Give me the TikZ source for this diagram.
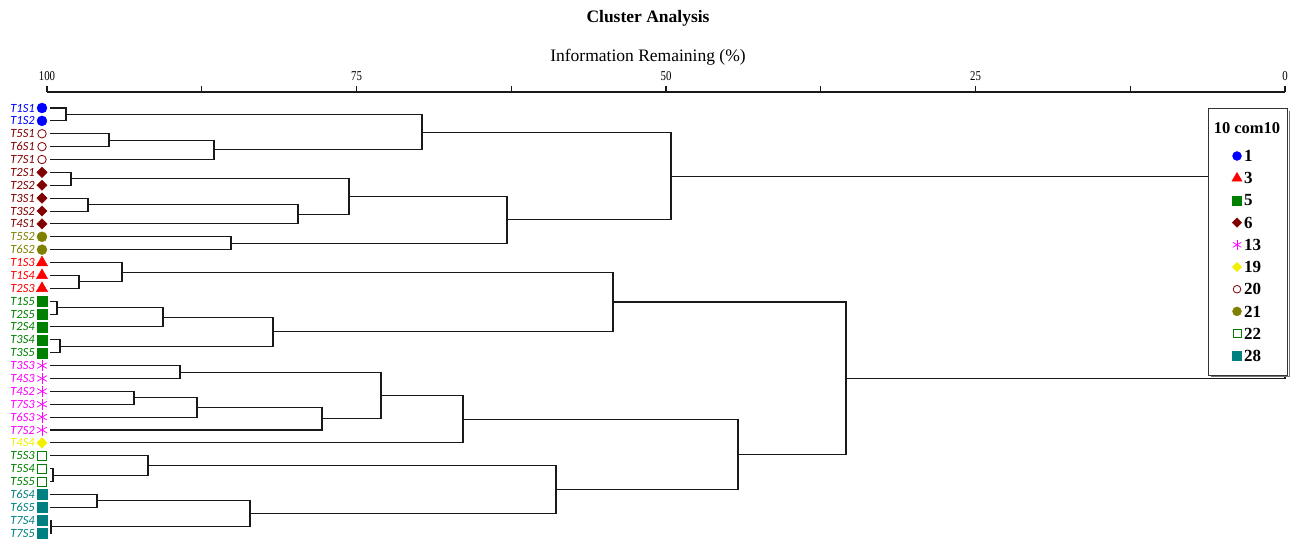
\documentclass[tikz,border=0pt]{standalone}
\usepackage{fontspec}
\setmainfont{Liberation Serif}
\newfontfamily\lblfont{Carlito}
\usetikzlibrary{shapes.geometric}
\definecolor{cblue}{RGB}{0,0,255}
\definecolor{cmaroon}{RGB}{128,0,0}
\definecolor{colive}{RGB}{128,128,0}
\definecolor{cred}{RGB}{255,0,0}
\definecolor{cgreen}{RGB}{0,128,0}
\definecolor{cmag}{RGB}{255,0,255}
\definecolor{cyel}{RGB}{240,240,0}
\definecolor{cteal}{RGB}{0,128,128}
\newcommand\joinpair[3]{\draw[link] (#2) -| (#1) |- (#3);}
\begin{document}
\begin{tikzpicture}[
  x=1pt, y=-1pt,
  every node/.style={inner sep=0pt},
  link/.style={draw=black!90, line width=1.05pt},
  mdot/.style={circle, minimum size=10pt},
  mocirc/.style={circle, minimum size=8.5pt, fill=white, line width=0.8pt},
  mtri/.style={regular polygon, regular polygon sides=3, minimum size=13pt},
  msq/.style={rectangle, minimum size=10pt},
  mosq/.style={rectangle, minimum size=9pt, fill=white, line width=0.8pt},
  mdiam/.style={diamond, minimum size=10.5pt},
  mstar/.style={draw=none, fill=none, rectangle, minimum size=12pt,
    path picture={\foreach \a in {90,30,150}
      \draw[cmag, line width=0.75pt] (path picture bounding box.center) +(\a:5.5pt) -- +(\a+180:5.5pt);}},
  leaflbl/.style={anchor=east, font=\lblfont\itshape\fontsize{12.5}{12.5}\selectfont},
  lgtext/.style={anchor=west, font=\bfseries\fontsize{17}{17}\selectfont}
]
\useasboundingbox (0,0) rectangle (1293,541);

% title and axis
\node[font=\bfseries\fontsize{17.5}{17.5}\selectfont] (title) at (648,18) {Cluster Analysis};
\node[font=\fontsize{17.5}{17.5}\selectfont] (axtitle) at (648,57) {Information Remaining (\%)};
\coordinate (axL) at (47,92);
\coordinate (axR) at (1285,92);
\draw[line width=1.7pt, black!90] (axL) -- (axR);
\foreach \v in {0,12.5,...,100}
  \draw[line width=1.3pt, black!90] (1285-12.38*\v,92) -- ++(0,-6);
\foreach \v in {0,25,50,75,100}
  \node[font=\fontsize{13.5}{13.5}\selectfont, xscale=0.8] (tk\v) at (1285-12.38*\v,76) {\v};

\begin{scope}[y=-12.88pt, yshift=-108pt]
% leaves
\foreach \nm/\col/\mk [count=\i from 0] in {T1S1/cblue/mdot, T1S2/cblue/mdot,
  T5S1/cmaroon/mocirc, T6S1/cmaroon/mocirc, T7S1/cmaroon/mocirc,
  T2S1/cmaroon/mdiam, T2S2/cmaroon/mdiam, T3S1/cmaroon/mdiam, T3S2/cmaroon/mdiam, T4S1/cmaroon/mdiam,
  T5S2/colive/mdot, T6S2/colive/mdot,
  T1S3/cred/mtri, T1S4/cred/mtri, T2S3/cred/mtri,
  T1S5/cgreen/msq, T2S5/cgreen/msq, T2S4/cgreen/msq, T3S4/cgreen/msq, T3S5/cgreen/msq,
  T3S3/cmag/mstar, T4S3/cmag/mstar, T4S2/cmag/mstar, T7S3/cmag/mstar, T6S3/cmag/mstar, T7S2/cmag/mstar,
  T4S4/cyel/mdiam,
  T5S3/cgreen/mosq, T5S4/cgreen/mosq, T5S5/cgreen/mosq,
  T6S4/cteal/msq, T6S5/cteal/msq, T7S4/cteal/msq, T7S5/cteal/msq} {
  \coordinate (\nm) at (50,\i);
  \node[draw=\col, fill=\col, \mk] (mk\nm) at (42,\i) {};
  \node[leaflbl, text=\col] (lb\nm) at (35,\i) {\nm};
}

% merge points
\coordinate (a1) at (66,0.5);
\coordinate (a2) at (109,2.5);
\coordinate (a3) at (214,3.25);
\coordinate (a4) at (422,1.875);
\coordinate (b1) at (71,5.5);
\coordinate (b2) at (88,7.5);
\coordinate (b3) at (298,8.25);
\coordinate (b4) at (349,6.875);
\coordinate (b5) at (231,10.5);
\coordinate (b6) at (507,8.6875);
\coordinate (top) at (671,5.28125);
\coordinate (c1) at (79,13.5);
\coordinate (c2) at (122,12.75);
\coordinate (d1) at (57,15.5);
\coordinate (d2) at (163,16.25);
\coordinate (d3) at (60,18.5);
\coordinate (d4) at (273,17.375);
\coordinate (cd) at (613,15.0625);
\coordinate (e1) at (180,20.5);
\coordinate (e2) at (134,22.5);
\coordinate (e3) at (197,23.25);
\coordinate (e4) at (322,24.125);
\coordinate (e5) at (381,22.3125);
\coordinate (e6) at (463,24.15625);
\coordinate (f1) at (53,28.5);
\coordinate (f2) at (148,27.75);
\coordinate (g1) at (97,30.5);
\coordinate (g2) at (51,32.5);
\coordinate (g3) at (250,31.5);
\coordinate (fg) at (556,29.625);
\coordinate (eg) at (738,26.890625);
\coordinate (low) at (846,20.9765625);
\coordinate (root) at (1285,13.12890625);

% branches
\joinpair{a1}{T1S1}{T1S2}
\joinpair{a2}{T5S1}{T6S1}
\joinpair{a3}{a2}{T7S1}
\joinpair{a4}{a1}{a3}
\joinpair{b1}{T2S1}{T2S2}
\joinpair{b2}{T3S1}{T3S2}
\joinpair{b3}{b2}{T4S1}
\joinpair{b4}{b1}{b3}
\joinpair{b5}{T5S2}{T6S2}
\joinpair{b6}{b4}{b5}
\joinpair{top}{a4}{b6}
\joinpair{c1}{T1S4}{T2S3}
\joinpair{c2}{T1S3}{c1}
\joinpair{d1}{T1S5}{T2S5}
\joinpair{d2}{d1}{T2S4}
\joinpair{d3}{T3S4}{T3S5}
\joinpair{d4}{d2}{d3}
\joinpair{cd}{c2}{d4}
\joinpair{e1}{T3S3}{T4S3}
\joinpair{e2}{T4S2}{T7S3}
\joinpair{e3}{e2}{T6S3}
\joinpair{e4}{e3}{T7S2}
\joinpair{e5}{e1}{e4}
\joinpair{e6}{e5}{T4S4}
\joinpair{f1}{T5S4}{T5S5}
\joinpair{f2}{T5S3}{f1}
\joinpair{g1}{T6S4}{T6S5}
\joinpair{g2}{T7S4}{T7S5}
\joinpair{g3}{g1}{g2}
\joinpair{fg}{f2}{g3}
\joinpair{eg}{e6}{fg}
\joinpair{low}{cd}{eg}
\joinpair{root}{top}{low}
\end{scope}

% legend
\draw[black!55, line width=0.8pt] (1211,376.5) -- (1289,376.5) -- (1289,111);
\node[draw=black!80, fill=white, line width=0.8pt, minimum width=79pt, minimum height=267pt,
  anchor=north west] (legend) at (1208,108) {};
\node[font=\bfseries\fontsize{16.5}{16.5}\selectfont] (lgtitle) at (1247,128) {10 com10};
\foreach \col/\mk/\num [count=\j from 0] in {cblue/mdot/1, cred/mtri/3, cgreen/msq/5,
  cmaroon/mdiam/6, cmag/mstar/13, cyel/mdiam/19, cmaroon/mocirc/20, colive/mdot/21,
  cgreen/mosq/22, cteal/msq/28} {
  \node[draw=\col, fill=\col, \mk, scale=0.9] (lm\j) at (1237,156+22.2*\j) {};
  \node[lgtext] (lt\j) at (1244,156+22.2*\j) {\num};
}
\end{tikzpicture}
\end{document}
